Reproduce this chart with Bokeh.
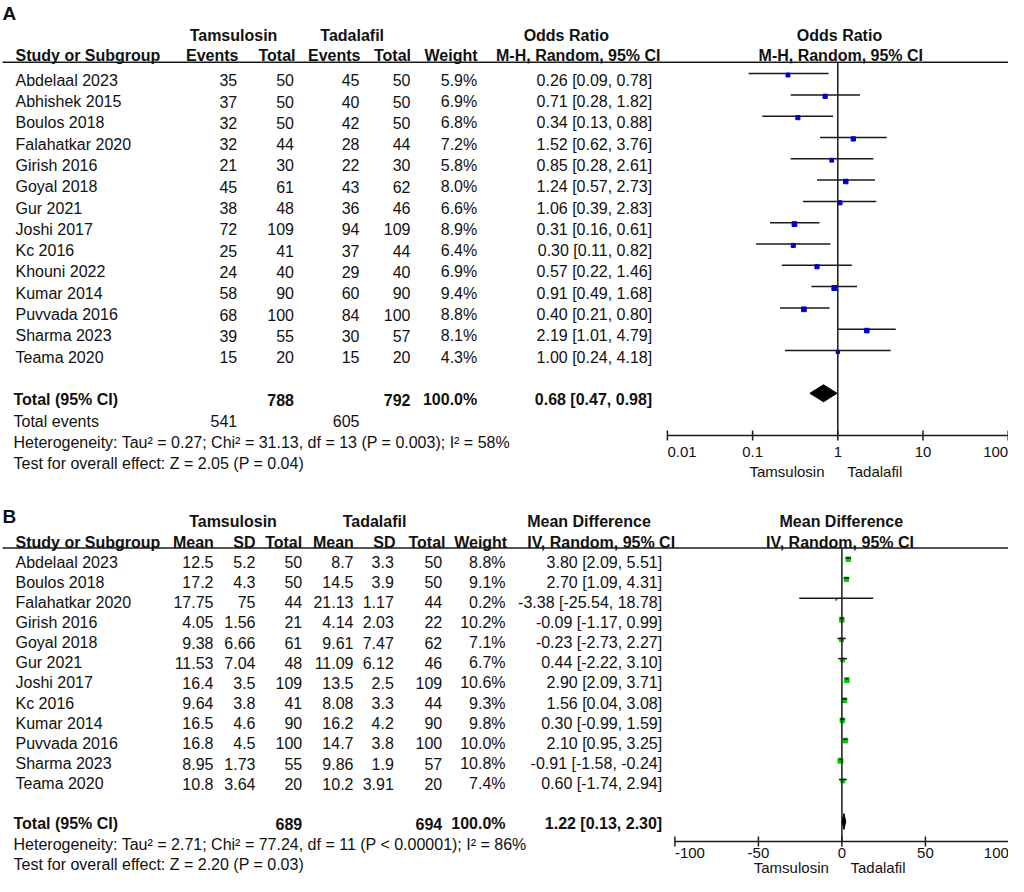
from bokeh.plotting import figure
from bokeh.models import Range1d, LogScale, LinearScale
from bokeh.core.properties import value
from bokeh.embed import file_html
from bokeh.resources import INLINE

FONT = "Liberation Sans"

# ---------------- Panel A data (Odds Ratio) ----------------
studiesA = ["Abdelaal 2023", "Abhishek 2015", "Boulos 2018", "Falahatkar 2020", "Girish 2016",
            "Goyal 2018", "Gur 2021", "Joshi 2017", "Kc 2016", "Khouni 2022", "Kumar 2014",
            "Puvvada 2016", "Sharma 2023", "Teama 2020"]
tam_events = [35, 37, 32, 32, 21, 45, 38, 72, 25, 24, 58, 68, 39, 15]
tam_totalA = [50, 50, 50, 44, 30, 61, 48, 109, 41, 40, 90, 100, 55, 20]
tad_events = [45, 40, 42, 28, 22, 43, 36, 94, 37, 29, 60, 84, 30, 15]
tad_totalA = [50, 50, 50, 44, 30, 62, 46, 109, 44, 40, 90, 100, 57, 20]
weightA = [5.9, 6.9, 6.8, 7.2, 5.8, 8.0, 6.6, 8.9, 6.4, 6.9, 9.4, 8.8, 8.1, 4.3]
orA = [0.26, 0.71, 0.34, 1.52, 0.85, 1.24, 1.06, 0.31, 0.30, 0.57, 0.91, 0.40, 2.19, 1.00]
loA = [0.09, 0.28, 0.13, 0.62, 0.28, 0.57, 0.39, 0.16, 0.11, 0.22, 0.49, 0.21, 1.01, 0.24]
hiA = [0.78, 1.82, 0.88, 3.76, 2.61, 2.73, 2.83, 0.61, 0.82, 1.46, 1.68, 0.80, 4.79, 4.18]
totalA = {"n1": 788, "n2": 792, "e1": 541, "e2": 605, "est": 0.68, "lo": 0.47, "hi": 0.98}
hetA = "Heterogeneity: Tau² = 0.27; Chi² = 31.13, df = 13 (P = 0.003); I² = 58%"
testA = "Test for overall effect: Z = 2.05 (P = 0.04)"
ticksA = [0.01, 0.1, 1, 10, 100]
tick_labelsA = ["0.01", "0.1", "1", "10", "100"]

# ---------------- Panel B data (Mean Difference) ----------------
studiesB = ["Abdelaal 2023", "Boulos 2018", "Falahatkar 2020", "Girish 2016", "Goyal 2018",
            "Gur 2021", "Joshi 2017", "Kc 2016", "Kumar 2014", "Puvvada 2016", "Sharma 2023",
            "Teama 2020"]
tam_mean = [12.5, 17.2, 17.75, 4.05, 9.38, 11.53, 16.4, 9.64, 16.5, 16.8, 8.95, 10.8]
tam_sd = [5.2, 4.3, 75, 1.56, 6.66, 7.04, 3.5, 3.8, 4.6, 4.5, 1.73, 3.64]
tam_totalB = [50, 50, 44, 21, 61, 48, 109, 41, 90, 100, 55, 20]
tad_mean = [8.7, 14.5, 21.13, 4.14, 9.61, 11.09, 13.5, 8.08, 16.2, 14.7, 9.86, 10.2]
tad_sd = [3.3, 3.9, 1.17, 2.03, 7.47, 6.12, 2.5, 3.3, 4.2, 3.8, 1.9, 3.91]
tad_totalB = [50, 50, 44, 22, 62, 46, 109, 44, 90, 100, 57, 20]
weightB = [8.8, 9.1, 0.2, 10.2, 7.1, 6.7, 10.6, 9.3, 9.8, 10.0, 10.8, 7.4]
mdB = [3.80, 2.70, -3.38, -0.09, -0.23, 0.44, 2.90, 1.56, 0.30, 2.10, -0.91, 0.60]
loB = [2.09, 1.09, -25.54, -1.17, -2.73, -2.22, 2.09, 0.04, -0.99, 0.95, -1.58, -1.74]
hiB = [5.51, 4.31, 18.78, 0.99, 2.27, 3.10, 3.71, 3.08, 1.59, 3.25, -0.24, 2.94]
totalB = {"n1": 689, "n2": 694, "est": 1.22, "lo": 0.13, "hi": 2.30}
hetB = "Heterogeneity: Tau² = 2.71; Chi² = 77.24, df = 11 (P < 0.00001); I² = 86%"
testB = "Test for overall effect: Z = 2.20 (P = 0.03)"
ticksB = [-100, -50, 0, 50, 100]
tick_labelsB = ["-100", "-50", "0", "50", "100"]

# ---------------- layout (pixel space of the figure) ----------------
FIG_W, FIG_H = 1008, 876
OR_X1, OR_DEC = 837.3, 85.2      # position of OR=1, width of one decade
MD_X0, MD_UNIT = 841.4, 1.67     # position of MD=0, width of one unit

p = figure(width=FIG_W, height=FIG_H,
           x_range=Range1d(0, FIG_W), y_range=Range1d(FIG_H, 0),
           output_backend="svg", toolbar_location=None,
           x_axis_location=None, y_axis_location=None,
           min_border=0, outline_line_color=None,
           background_fill_color="white", border_fill_color="white")
p.xgrid.visible = False
p.ygrid.visible = False
p.extra_x_ranges = {
    "or": Range1d(10 ** ((0 - OR_X1) / OR_DEC), 10 ** ((FIG_W - OR_X1) / OR_DEC)),
    "md": Range1d((0 - MD_X0) / MD_UNIT, (FIG_W - MD_X0) / MD_UNIT),
}
p.extra_x_scales = {"or": LogScale(), "md": LinearScale()}

texts = {}


def txt(x, y, s, align="left", bold=False, size=16, rn="default"):
    key = (align, bold, size, rn)
    d = texts.setdefault(key, {"x": [], "y": [], "t": []})
    d["x"].append(x)
    d["y"].append(y)
    d["t"].append(s)


def fmt(v):
    return f"{v:g}"


LINE = "#1a1a1a"
LW = 1.5
SQ_MAX = 4.9
HL_X0, HL_X1 = 2, 1022

# ======================= PANEL A =======================
txt(2, 13, "A", bold=True, size=19)
hdr1, hdr2, hline = 35, 55, 61.7
txt(233, hdr1, "Tamsulosin", "center", True)
txt(351.7, hdr1, "Tadalafil", "center", True)
txt(565.8, hdr1, "Odds Ratio", "center", True)
txt(839, hdr1, "Odds Ratio", "center", True)
txt(15, hdr2, "Study or Subgroup", "left", True)
txt(238, hdr2, "Events", "right", True)
txt(295, hdr2, "Total", "right", True)
txt(360, hdr2, "Events", "right", True)
txt(410.5, hdr2, "Total", "right", True)
txt(477, hdr2, "Weight", "right", True)
txt(660, hdr2, "M-H, Random, 95% CI", "right", True)
txt(840.3, hdr2, "M-H, Random, 95% CI", "center", True)
p.segment(x0=[HL_X0], x1=[HL_X1], y0=[hline], y1=[hline], line_color=LINE, line_width=LW)

rowA0, dA = 79.7, 21.3
ylineA, ysqA = [], []
for i, s in enumerate(studiesA):
    yc = rowA0 + dA * i
    txt(15, yc, s)
    txt(236.7, yc, str(tam_events[i]), "right")
    txt(293.5, yc, str(tam_totalA[i]), "right")
    txt(359, yc, str(tad_events[i]), "right")
    txt(410, yc, str(tad_totalA[i]), "right")
    txt(476.7, yc, f"{weightA[i]:.1f}%", "right")
    txt(651.7, yc, f"{orA[i]:.2f} [{loA[i]:.2f}, {hiA[i]:.2f}]", "right")
    ylineA.append(yc - 6.6)
    ysqA.append(yc - 5.2)

yTotA = rowA0 + dA * 15
txt(13, yTotA, "Total (95% CI)", "left", True)
txt(293.5, yTotA, str(totalA["n1"]), "right", True)
txt(410, yTotA, str(totalA["n2"]), "right", True)
txt(476.7, yTotA, "100.0%", "right", True)
txt(651.7, yTotA, f"{totalA['est']:.2f} [{totalA['lo']:.2f}, {totalA['hi']:.2f}]", "right", True)
yEvA = yTotA + dA
txt(13, yEvA, "Total events")
txt(236.7, yEvA, str(totalA["e1"]), "right")
txt(359, yEvA, str(totalA["e2"]), "right")
txt(13, yEvA + dA, hetA)
txt(13, yEvA + 2 * dA, testA)

# forest A
axisA = 435
p.segment(x0=loA, x1=hiA, y0=ylineA, y1=ylineA, x_range_name="or", line_color=LINE, line_width=LW)
sizesA = [max(1.5, SQ_MAX * (w / max(weightA)) ** 0.5) for w in weightA]
p.scatter(x=orA, y=ysqA, size=sizesA, marker="square", fill_color="#0000cc",
          line_color="#0000cc", x_range_name="or")
p.segment(x0=[1], x1=[1], y0=[hline], y1=[axisA], x_range_name="or", line_color=LINE, line_width=LW)
dyA = yTotA - 6.4
p.patch(x=[totalA["lo"], totalA["est"], totalA["hi"], totalA["est"]],
        y=[dyA, dyA - 8.5, dyA, dyA + 8.5], x_range_name="or", fill_color="black", line_color="black")
p.segment(x0=[ticksA[0]], x1=[ticksA[-1]], y0=[axisA], y1=[axisA], x_range_name="or",
          line_color=LINE, line_width=LW)
p.segment(x0=ticksA, x1=ticksA, y0=[axisA - 5] * 5, y1=[axisA + 5] * 5, x_range_name="or",
          line_color=LINE, line_width=LW)
for i, (t, lab) in enumerate(zip(ticksA, tick_labelsA)):
    al = "left" if i == 0 else ("right" if i == len(ticksA) - 1 else "center")
    txt(t, 451, lab, al, False, 15, "or")
txt(824, 471, "Tamsulosin", "right", False, 15)
txt(846.7, 471, "Tadalafil", "left", False, 15)

# ======================= PANEL B (shifted up a little to fit) =======================
OB = -8
txt(2, 523.8 + OB, "B", bold=True, size=19)
hb1, hb2, hlineB = 529.3 + OB, 550 + OB, 555.5 + OB
txt(232.5, hb1, "Tamsulosin", "center", True)
txt(374, hb1, "Tadalafil", "center", True)
txt(526.7, hb1, "Mean Difference", "left", True)
txt(840.8, hb1, "Mean Difference", "center", True)
txt(15, hb2, "Study or Subgroup", "left", True)
txt(213.3, hb2, "Mean", "right", True)
txt(255, hb2, "SD", "right", True)
txt(301.7, hb2, "Total", "right", True)
txt(353.3, hb2, "Mean", "right", True)
txt(395, hb2, "SD", "right", True)
txt(445, hb2, "Total", "right", True)
txt(506.7, hb2, "Weight", "right", True)
txt(526.7, hb2, "IV, Random, 95% CI", "left", True)
txt(839.5, hb2, "IV, Random, 95% CI", "center", True)
p.segment(x0=[HL_X0], x1=[HL_X1], y0=[hlineB], y1=[hlineB], line_color=LINE, line_width=LW)

rowB0, dB = 569.5 + OB, 20.15
ylineB, ysqB = [], []
for i, s in enumerate(studiesB):
    yc = rowB0 + dB * i
    txt(15, yc, s)
    txt(213, yc, fmt(tam_mean[i]), "right")
    txt(255, yc, fmt(tam_sd[i]), "right")
    txt(301.7, yc, str(tam_totalB[i]), "right")
    txt(353, yc, fmt(tad_mean[i]), "right")
    txt(393.3, yc, fmt(tad_sd[i]), "right")
    txt(441.7, yc, str(tad_totalB[i]), "right")
    txt(505, yc, f"{weightB[i]:.1f}%", "right")
    txt(661.7, yc, f"{mdB[i]:.2f} [{loB[i]:.2f}, {hiB[i]:.2f}]", "right")
    ylineB.append(yc - 4.1)
    ysqB.append(yc - 2.8)

yTotB = rowB0 + dB * 13
txt(13, yTotB, "Total (95% CI)", "left", True)
txt(301.7, yTotB, str(totalB["n1"]), "right", True)
txt(441.7, yTotB, str(totalB["n2"]), "right", True)
txt(505, yTotB, "100.0%", "right", True)
txt(661.7, yTotB, f"{totalB['est']:.2f} [{totalB['lo']:.2f}, {totalB['hi']:.2f}]", "right", True)
txt(13, yTotB + dB, hetB)
txt(13, yTotB + 2 * dB, testB)

axisB = 849 + OB
sizesB = [max(1.5, SQ_MAX * (w / max(weightB)) ** 0.5) for w in weightB]
p.scatter(x=mdB, y=ysqB, size=sizesB, marker="square", fill_color="#00cc00",
          line_color="#00cc00", x_range_name="md")
p.segment(x0=loB, x1=hiB, y0=ylineB, y1=ylineB, x_range_name="md", line_color=LINE, line_width=LW)
p.segment(x0=[0], x1=[0], y0=[hlineB], y1=[axisB], x_range_name="md", line_color=LINE, line_width=LW)
dyB = yTotB - 2.5
p.patch(x=[totalB["lo"], totalB["est"], totalB["hi"], totalB["est"]],
        y=[dyB, dyB - 8, dyB, dyB + 8], x_range_name="md", fill_color="black", line_color="black")
p.segment(x0=[ticksB[0]], x1=[ticksB[-1]], y0=[axisB], y1=[axisB], x_range_name="md",
          line_color=LINE, line_width=LW)
p.segment(x0=ticksB, x1=ticksB, y0=[axisB - 5] * 5, y1=[axisB + 5] * 5, x_range_name="md",
          line_color=LINE, line_width=LW)
for i, (t, lab) in enumerate(zip(ticksB, tick_labelsB)):
    al = "left" if i == 0 else ("right" if i == len(ticksB) - 1 else "center")
    txt(t, 860.5 + OB, lab, al, False, 15, "md")
txt(828.3, 875 + OB, "Tamsulosin", "right", False, 15)
txt(850, 875 + OB, "Tadalafil", "left", False, 15)

# ---------------- render all texts ----------------
for (align, bold, size, rn), d in texts.items():
    p.text(x=d["x"], y=d["y"], text=d["t"], x_range_name=rn,
           text_font=value(FONT), text_font_size=f"{size}px",
           text_font_style="bold" if bold else "normal",
           text_align=align, text_baseline="middle", text_color="#111111")

open("out.html", "w").write(file_html(p, INLINE))
